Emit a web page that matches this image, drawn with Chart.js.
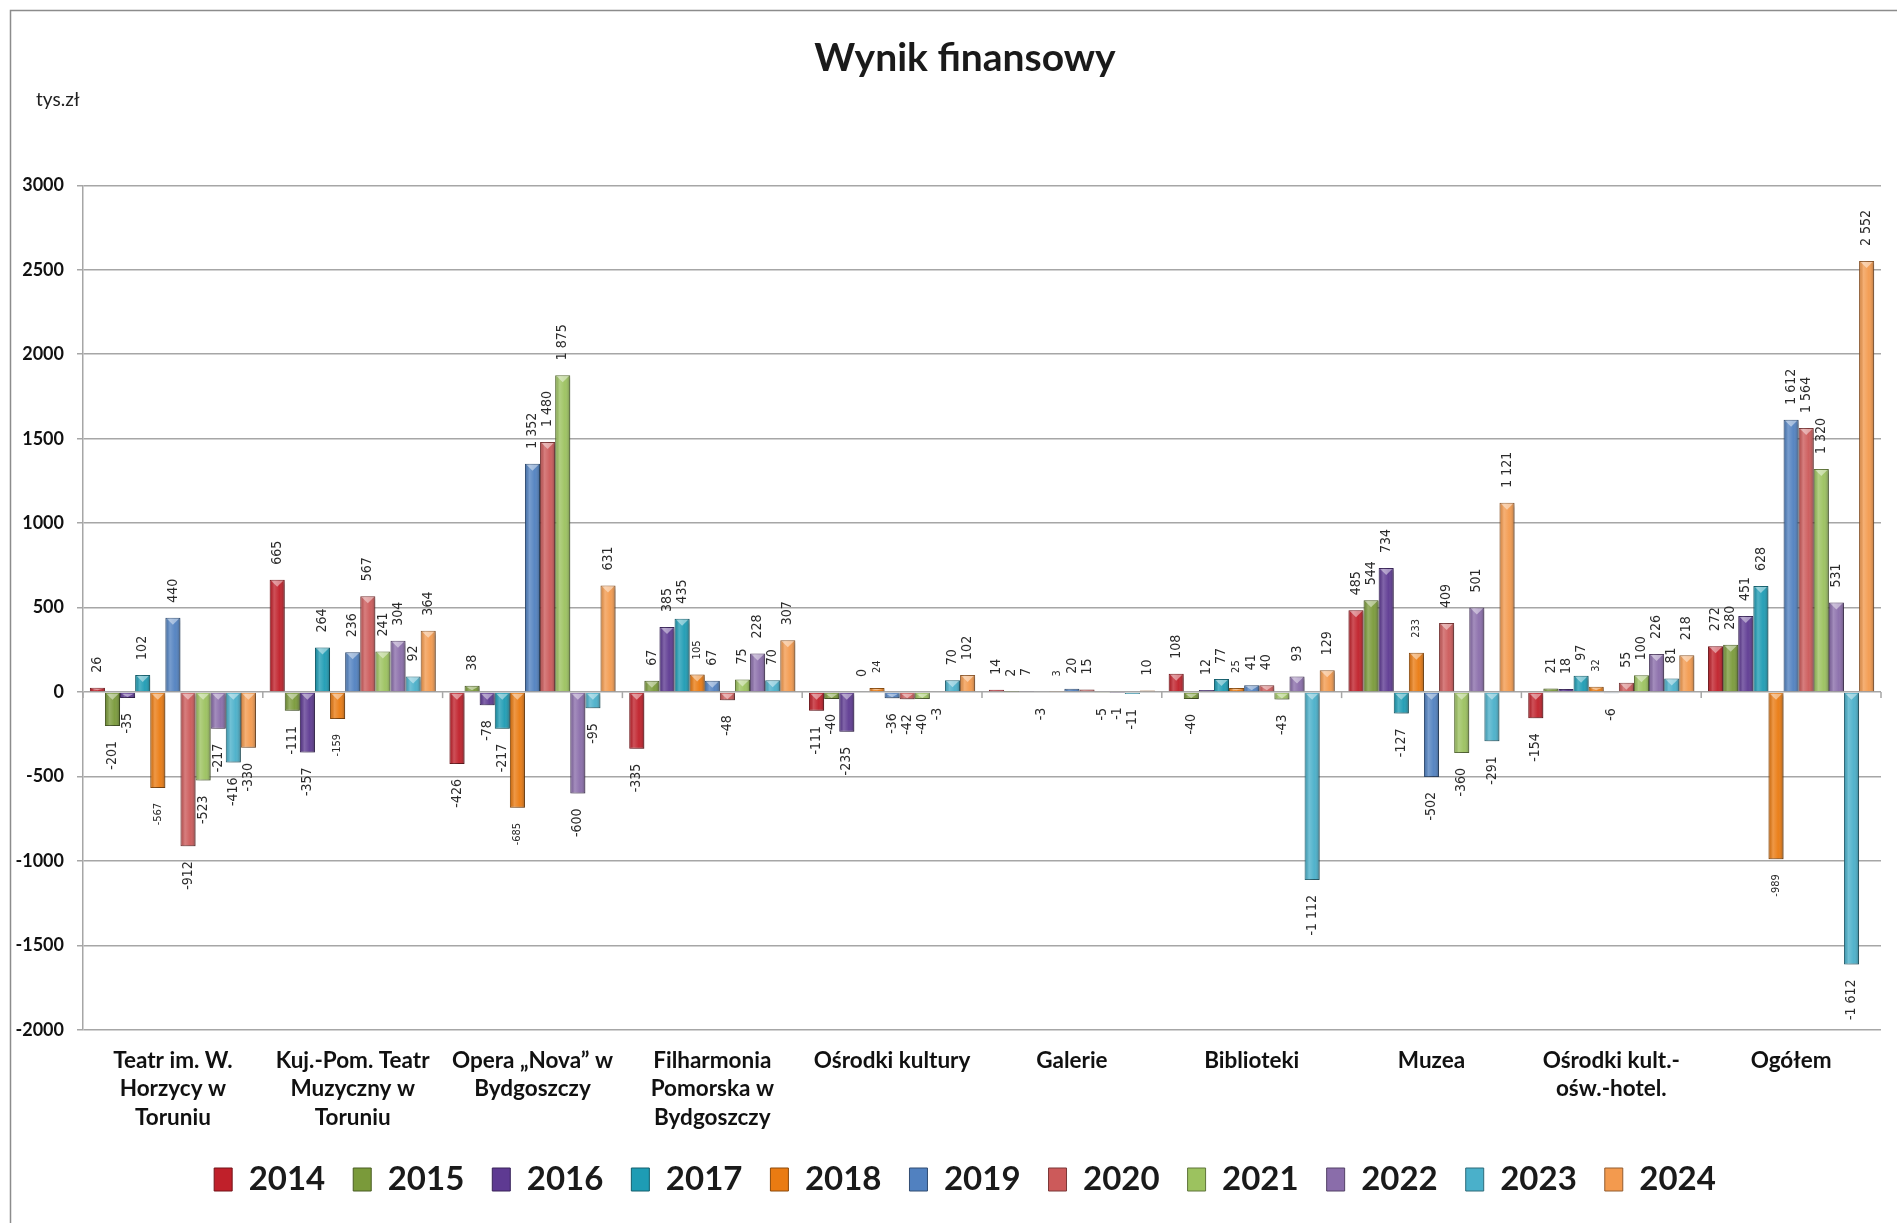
<!DOCTYPE html>
<html>
<head>
<meta charset="utf-8">
<script src="https://cdn.jsdelivr.net/npm/chart.js@4.4.1/dist/chart.umd.min.js"></script>
<style>
html,body{margin:0;padding:0;background:#fff;overflow:hidden;width:1897px;height:1223px}
#wrap{position:absolute;left:0;top:0;width:1930px;height:1223px}
</style>
</head>
<body>
<div id="wrap"><canvas id="c" width="1930" height="1223"></canvas></div>
<script>
// ---- DATA ----
const categories = [
  ["Teatr im. W.", "Horzycy w", "Toruniu"],
  ["Kuj.-Pom. Teatr", "Muzyczny w", "Toruniu"],
  ["Opera \u201eNova\u201d w", "Bydgoszczy"],
  ["Filharmonia", "Pomorska w", "Bydgoszczy"],
  "Ośrodki kultury",
  "Galerie",
  "Biblioteki",
  "Muzea",
  ["Ośrodki kult.-", "ośw.-hotel."],
  "Ogółem"
];
const years = ["2014","2015","2016","2017","2018","2019","2020","2021","2022","2023","2024"];
const v2014 = [26, 665, -426, -335, -111, 14, 108, 485, -154, 272];
const v2015 = [-201, -111, 38, 67, -40, 2, -40, 544, 21, 280];
const v2016 = [-35, -357, -78, 385, -235, 7, 12, 734, 18, 451];
const v2017 = [102, 264, -217, 435, 0, -3, 77, -127, 97, 628];
const v2018 = [-567, -159, -685, 105, 24, 3, 25, 233, 32, -989];
const v2019 = [440, 236, 1352, 67, -36, 20, 41, -502, -6, 1612];
const v2020 = [-912, 567, 1480, -48, -42, 15, 40, 409, 55, 1564];
const v2021 = [-523, 241, 1875, 75, -40, -5, -43, -360, 100, 1320];
const v2022 = [-217, 304, -600, 228, -3, -1, 93, 501, 226, 531];
const v2023 = [-416, 92, -95, 70, 70, -11, -1112, -291, 81, -1612];
const v2024 = [-330, 364, 631, 307, 102, 10, 129, 1121, 218, 2552];
const seriesValues = [v2014, v2015, v2016, v2017, v2018, v2019, v2020, v2021, v2022, v2023, v2024];
const yMin = -2000, yMax = 3000, yStep = 500;

// ---- STYLE ----
const colors = ["#C0202A","#7A9A3A","#5E3A92","#1E9CB4","#EA7B12","#5181C0","#CC5A5A","#9CC25F","#8A6DAA","#4AB0CA","#F39A4E"];
const labelSizes = [14,14,14,14,11,14,14,14,14,14,14];

function darker(hex, f) {
  const n = parseInt(hex.slice(1), 16);
  const r = Math.round(((n >> 16) & 255) * f), g = Math.round(((n >> 8) & 255) * f), b = Math.round((n & 255) * f);
  return `rgb(${r},${g},${b})`;
}
function fmt(v) {
  const s = String(Math.abs(v)).replace(/\B(?=(\d{3})+(?!\d))/g, ' ');
  return (v < 0 ? '-' : '') + s;
}

const FONT = 'Lato, "Open Sans", sans-serif';
const LABEL_FONT = '"Liberation Sans Narrow", "DejaVu Sans Condensed", "Roboto Condensed", Roboto, sans-serif';

const datasets = years.map((y, i) => ({
  label: y,
  data: seriesValues[i],
  backgroundColor: colors[i],
  borderColor: darker(colors[i], 0.6),
  borderWidth: 1,
  yAxisID: 'y',
  labelSize: labelSizes[i]
}));

// ---- PLUGINS ----
const framePlugin = {
  id: 'frame',
  beforeDraw(chart) {
    const ctx = chart.ctx;
    ctx.save();
    ctx.fillStyle = '#fff';
    ctx.fillRect(0, 0, chart.width, chart.height);
    ctx.strokeStyle = '#8c8c8c';
    ctx.lineWidth = 1.5;
    ctx.strokeRect(10.5, 10.5, chart.width + 50, chart.height + 50);
    ctx.fillStyle = '#222';
    ctx.font = '19px ' + FONT;
    ctx.textBaseline = 'middle';
    ctx.textAlign = 'left';
    ctx.fillText('tys.zł', 36, 100);
    ctx.restore();
  }
};

const shadowPlugin = {
  id: 'barShadow',
  beforeDatasetsDraw(chart) {
    const ctx = chart.ctx;
    ctx.save();
    ctx.shadowColor = 'rgba(0,0,0,0.28)';
    ctx.shadowBlur = 3;
    ctx.shadowOffsetX = 2;
    ctx.shadowOffsetY = 2;
  },
  afterDatasetsDraw(chart) {
    chart.ctx.restore();
  }
};

const shadePlugin = {
  id: 'barShade',
  afterDatasetsDraw(chart) {
    const ctx = chart.ctx;
    chart.data.datasets.forEach((ds, di) => {
      const meta = chart.getDatasetMeta(di);
      meta.data.forEach((el) => {
        const p = el.getProps(['x', 'y', 'base', 'width'], true);
        const left = p.x - p.width / 2, right = p.x + p.width / 2;
        const top = Math.min(p.y, p.base), h = Math.abs(p.base - p.y);
        if (h < 1) return;
        ctx.save();
        const g = ctx.createLinearGradient(left, 0, right, 0);
        g.addColorStop(0, 'rgba(0,0,0,0.12)');
        g.addColorStop(0.3, 'rgba(255,255,255,0.22)');
        g.addColorStop(0.65, 'rgba(255,255,255,0.04)');
        g.addColorStop(1, 'rgba(0,0,0,0.28)');
        ctx.fillStyle = g;
        ctx.fillRect(left + 0.5, top + 0.5, p.width - 1, h - 1);
        if (h > 3) {
          ctx.beginPath();
          ctx.moveTo(left + 1.5, top + 1);
          ctx.lineTo(right - 1.5, top + 1);
          ctx.lineTo(p.x, top + Math.min(7, h - 1));
          ctx.closePath();
          ctx.fillStyle = 'rgba(255,255,255,0.45)';
          ctx.fill();
        }
        ctx.restore();
      });
    });
  }
};

const labelPlugin = {
  id: 'valueLabels',
  afterDatasetsDraw(chart) {
    const ctx = chart.ctx;
    chart.data.datasets.forEach((ds, di) => {
      const meta = chart.getDatasetMeta(di);
      meta.data.forEach((el, i) => {
        const v = ds.data[i];
        const p = el.getProps(['x', 'y', 'base'], true);
        const off = 15;
        ctx.save();
        ctx.translate(p.x, v >= 0 ? p.y - off : p.y + off);
        ctx.rotate(-Math.PI / 2);
        ctx.font = ds.labelSize + 'px ' + LABEL_FONT;
        ctx.fillStyle = '#2a2a2a';
        ctx.textBaseline = 'middle';
        ctx.textAlign = v >= 0 ? 'left' : 'right';
        ctx.fillText(fmt(v), 0, 0);
        ctx.restore();
      });
    });
  }
};

const catTickPlugin = {
  id: 'catTicks',
  afterDatasetsDraw(chart) {
    const xs = chart.scales.x, ys = chart.scales.y, ctx = chart.ctx;
    const y0 = ys.getPixelForValue(0);
    const w = xs.width / categories.length;
    ctx.save();
    ctx.strokeStyle = '#a6a6a6';
    ctx.lineWidth = 1.5;
    for (let i = 0; i <= categories.length; i++) {
      const x = xs.left + i * w;
      ctx.beginPath();
      ctx.moveTo(x, y0);
      ctx.lineTo(x, y0 + 6);
      ctx.stroke();
    }
    ctx.restore();
  }
};

new Chart(document.getElementById('c'), {
  type: 'bar',
  data: { labels: categories, datasets },
  plugins: [framePlugin, shadowPlugin, shadePlugin, catTickPlugin, labelPlugin],
  options: {
    responsive: false,
    animation: false,
    devicePixelRatio: 1,
    layout: { padding: { left: 0, right: 0, top: 35, bottom: 17 } },
    datasets: { bar: { categoryPercentage: 0.924, barPercentage: 1.0 } },
    plugins: {
      title: {
        display: true,
        text: 'Wynik finansowy',
        color: '#1a1a1a',
        font: { family: FONT, size: 39, weight: 'bold' },
        padding: { top: 0, bottom: 103.5 }
      },
      legend: {
        display: true,
        position: 'bottom',
        labels: {
          color: '#1a1a1a',
          font: { family: FONT, size: 33, weight: 'bold' },
          boxWidth: 18,
          boxHeight: 23,
          padding: 28
        }
      },
      tooltip: { enabled: false }
    },
    scales: {
      x: {
        grid: { display: false, drawTicks: false },
        border: { display: false },
        ticks: {
          color: '#111',
          font: { family: FONT, size: 22.5, weight: 'bold', lineHeight: 1.28 },
          padding: 16,
          maxRotation: 0,
          minRotation: 0,
          autoSkip: false
        },
        afterFit(s) { s.height = 105; }
      },
      y: {
        position: 'left',
        min: yMin,
        max: yMax,
        grid: { color: '#a6a6a6', lineWidth: 1.5, tickLength: 6 },
        border: { display: true, color: '#a6a6a6', width: 1.5 },
        ticks: {
          stepSize: yStep,
          color: '#111',
          font: { family: FONT, size: 18, weight: 'bold' },
          padding: 13,
          callback: (v) => String(v)
        },
        afterFit(s) { s.width = 83; }
      },
      yR: {
        type: 'linear',
        position: 'right',
        display: true,
        grid: { display: false, drawTicks: false },
        border: { display: false },
        ticks: { display: false },
        afterFit(s) { s.width = 49; }
      }
    }
  }
});
</script>
</body>
</html>
